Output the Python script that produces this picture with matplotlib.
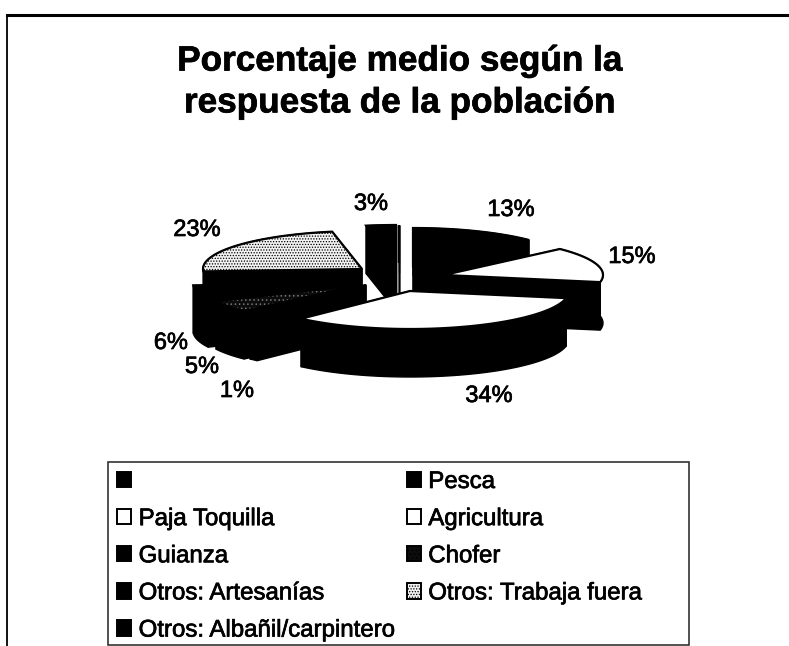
import numpy as np
import matplotlib
matplotlib.use("Agg")
import matplotlib.pyplot as plt
import matplotlib.patheffects as pe
from matplotlib.patches import Polygon, Rectangle, Patch

# ---- data ----
categories = ["", "Pesca", "Paja Toquilla", "Agricultura", "Guianza", "Chofer",
              "Otros: Artesanías", "Otros: Trabaja fuera", "Otros: Albañil/carpintero"]
percent = [0, 13, 15, 34, 1, 5, 6, 23, 3]
shown_labels = ["", "13%", "15%", "34%", "1%", "5%", "6%", "23%", "3%"]
title_text = "Porcentaje medio según la\nrespuesta de la población"

# ---- layout / style (pixels of the 789x646 canvas) ----
apex = {"": (399, 263), "Pesca": (413, 266), "Paja Toquilla": (444, 275),
        "Agricultura": (410, 291), "Guianza": (366, 285), "Chofer": (360, 285),
        "Otros: Artesanías": (352, 283), "Otros: Trabaja fuera": (362, 269),
        "Otros: Albañil/carpintero": (396, 263)}
label_pos = {"13%": (511, 210), "15%": (632, 257), "34%": (489, 396), "1%": (237, 391),
             "5%": (202, 367), "6%": (171, 343), "23%": (197, 230), "3%": (371, 204)}
style = {"": dict(fc="black"), "Pesca": dict(fc="black"), "Paja Toquilla": dict(fc="white"),
         "Agricultura": dict(fc="white"), "Guianza": dict(fc="black"),
         "Chofer": dict(fc="#0c0c0c", hatch="....", ec="#777777"),
         "Otros: Artesanías": dict(fc="black"),
         "Otros: Trabaja fuera": dict(fc="#f2f2f2", hatch="......", ec="black"),
         "Otros: Albañil/carpintero": dict(fc="black")}
draw_order = ["Otros: Trabaja fuera", "Otros: Albañil/carpintero", "", "Pesca",
              "Paja Toquilla", "Otros: Artesanías", "Chofer", "Guianza", "Agricultura"]
RX, RY, DEPTH = 159, 38, 48
FONT = "Liberation Sans"
heavy = [pe.withStroke(linewidth=0.5, foreground="black")]

plt.rcParams["font.family"] = FONT
plt.rcParams["hatch.linewidth"] = 0.6
fig = plt.figure(figsize=(7.89, 6.46), dpi=100)
ax = fig.add_axes([0, 0, 1, 1])
ax.set_xlim(0, 789)
ax.set_ylim(646, 0)
ax.axis("off")

# outer frame
ax.plot([7.5, 7.5, 789], [646, 14.5, 14.5], color="black", lw=1.3, solid_joinstyle="miter")
ax.plot([7.5, 789], [14.5, 14.5], color="black", lw=2.2)

# slices: angles run clockwise from the top of the pie
edges = np.cumsum([0] + percent) / 100 * 2 * np.pi
span = {c: (edges[i], edges[i + 1]) for i, c in enumerate(categories)}

def arc(cat):
    a0, a1 = span[cat]
    t = np.linspace(a0, a1, max(2, int((a1 - a0) * 40)))
    cx, cy = apex[cat]
    return np.column_stack([cx + RX * np.sin(t), cy - RY * np.cos(t)])

for cat in draw_order:
    cx, cy = apex[cat]
    rim = arc(cat)
    low = rim + [0, DEPTH]
    z = draw_order.index(cat) * 3 + 2
    # outer wall
    ax.add_patch(Polygon(np.vstack([rim, low[::-1]]), fc="black", ec="black", lw=1, zorder=z))
    # two cut faces
    for p in (rim[0], rim[-1]):
        face = [(cx, cy), p, p + [0, DEPTH], (cx, cy + DEPTH)]
        ax.add_patch(Polygon(face, fc="black", ec="black", lw=1, zorder=z))
    # top
    top = np.vstack([[(cx, cy)], rim])
    st = dict(style[cat])
    ec = st.pop("ec", "black")
    fc = st.pop("fc")
    hatch = st.pop("hatch", None)
    ax.add_patch(Polygon(top, fc=fc, ec=ec, hatch=hatch, lw=0, zorder=z + 1))
    ax.add_patch(Polygon(top, fill=False, ec="black", lw=1.6, zorder=z + 2))

for s in shown_labels:
    if s:
        x, y = label_pos[s]
        ax.text(x, y, s, fontsize=17, ha="center", va="center", color="black", zorder=50,
                path_effects=heavy)

ax.text(400, 82, title_text, fontsize=25.3, fontweight="bold", ha="center", va="center",
        linespacing=1.34, color="black", path_effects=heavy)

# legend
ax.add_patch(Rectangle((108, 461.5), 581, 183.5, fill=False, ec="#222222", lw=1.1, zorder=40))
handles = []
for c in categories:
    st = style[c]
    handles.append(Patch(fc=st["fc"], ec="black", lw=1.4, hatch=st.get("hatch")))
left = list(range(0, 9, 2))
right = list(range(1, 9, 2))
idx = left + right
leg = ax.legend([handles[i] for i in idx], [categories[i] for i in idx], ncol=2,
                loc="upper left", bbox_to_anchor=(117 / 789, 1 - 471 / 646),
                frameon=False, fontsize=17.3, handlelength=0.6, handleheight=0.6,
                handletextpad=0.3, labelspacing=0.63, columnspacing=0.5,
                borderpad=0, borderaxespad=0)
leg.set_zorder(45)
for t in leg.get_texts():
    t.set_path_effects(heavy)

fig.savefig("out.png", dpi=100, facecolor="white")
